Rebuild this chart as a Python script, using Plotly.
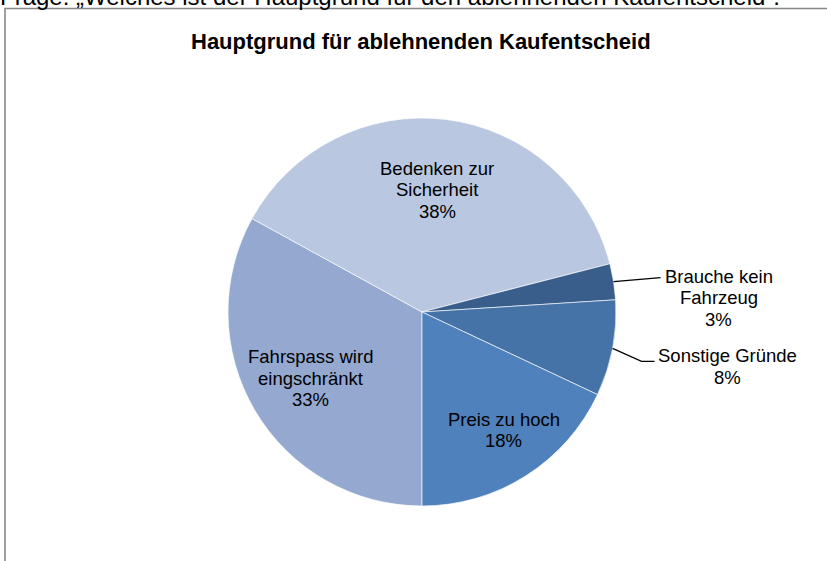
import math
import plotly.graph_objects as go

# ---- data (clockwise order, starting at 6 o'clock) ----
labels = ["Fahrspass wird eingschränkt", "Bedenken zur Sicherheit", "Brauche kein Fahrzeug",
          "Sonstige Gründe", "Preis zu hoch"]
label_lines = [["Fahrspass wird", "eingschränkt"], ["Bedenken zur", "Sicherheit"],
               ["Brauche kein", "Fahrzeug"], ["Sonstige Gründe"], ["Preis zu hoch"]]
values = [33, 38, 3, 8, 18]
colors = ["#94A8D0", "#B9C7E1", "#3A5E8C", "#4572A7", "#4F81BD"]
outside = [False, False, True, True, False]

title = "Hauptgrund für ablehnenden Kaufentscheid"
question = "Frage: „Welches ist der Hauptgrund für den ablehnenden Kaufentscheid“."

# ---- layout constants ----
W, H = 827, 561
FONT = "Liberation Sans, Arial, sans-serif"
cx, cy, R = 422, 312, 194
rotation = 180
inside_rfrac = [0.67, 0.635, None, None, 0.74]
LINE_H = 21.5
FS = 18.5

dom_x = [(cx - 380) / W, (cx + 380) / W]
dom_y = [1 - (cy + R) / H, 1 - (cy - R) / H]

fig = go.Figure(go.Pie(
    labels=labels, values=values, sort=False, direction="clockwise", rotation=rotation,
    marker=dict(colors=colors, line=dict(color="rgba(255,255,255,0.8)", width=0.8)),
    textinfo="none", domain=dict(x=dom_x, y=dom_y), hole=0, showlegend=False,
    hoverinfo="label+percent",
))

def text_block(lines, x, y):
    out = []
    n = len(lines)
    for k, ln in enumerate(lines):
        yy = y + (k - (n - 1) / 2) * LINE_H
        out.append(dict(x=x / W, y=1 - yy / H, xref="paper", yref="paper", showarrow=False,
                        text=ln, font=dict(family=FONT, size=FS, color="#000000"),
                        xanchor="center", yanchor="middle"))
    return out

total = sum(values)
cum = 0
shapes = []
annotations = []
for i, v in enumerate(values):
    mid = math.radians(rotation + (cum + v / 2) / total * 360)
    cum += v
    pct = f"{round(v / total * 100)}%"
    lines = label_lines[i] + [pct]
    if not outside[i]:
        r = R * inside_rfrac[i]
        tx = cx + r * math.sin(mid)
        ty = cy - r * math.cos(mid)
        if i == 4:
            tx += 5
            ty -= 3
        annotations += text_block(lines, tx, ty)
        continue
    px = cx + R * math.sin(mid)
    py = cy - R * math.cos(mid)
    if i == 2:
        pts = [(px, py), (px + 47, py - 4)]
        tx, ty = px + 47 + 58, py - 4 + 20
    else:
        pts = [(px, py), (px + 29, py + 13), (px + 42, py + 13)]
        tx, ty = px + 42 + 73, py + 13 + 5
    path = "M " + " L ".join(f"{x / W},{1 - y / H}" for x, y in pts)
    shapes.append(dict(type="path", path=path, xref="paper", yref="paper",
                       line=dict(color="#000000", width=1.2)))
    annotations += text_block(lines, tx, ty)

# chart border
shapes.append(dict(type="rect", xref="paper", yref="paper",
                   x0=5 / W, x1=1.02, y0=-0.05, y1=1 - 8.5 / H,
                   line=dict(color="#888888", width=1.6), fillcolor="rgba(0,0,0,0)"))

annotations.append(dict(x=421 / W, y=1 - 41 / H, xref="paper", yref="paper", showarrow=False,
                        text=f"<b>{title}</b>", font=dict(family=FONT, size=22, color="#000000"),
                        xanchor="center", yanchor="middle"))
annotations.append(dict(x=0, y=1 + 3 / H, xref="paper", yref="paper", showarrow=False,
                        text=question, font=dict(family=FONT, size=24, color="#000000"),
                        xanchor="left", yanchor="middle", xshift=-2))

fig.update_layout(
    width=W, height=H, margin=dict(l=0, r=0, t=0, b=0),
    paper_bgcolor="#FFFFFF", plot_bgcolor="#FFFFFF",
    shapes=shapes, annotations=annotations,
)
fig.write_html("out.html", config={"displayModeBar": False},
               post_script="document.body.style.margin='0';document.body.style.overflow='hidden';")
